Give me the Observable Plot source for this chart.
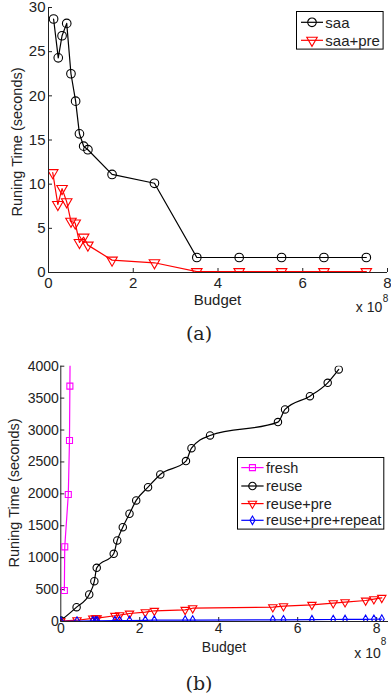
<!DOCTYPE html>
<html><head><meta charset="utf-8">
<script src="https://cdn.jsdelivr.net/npm/d3@7"></script>
<script src="https://cdn.jsdelivr.net/npm/@observablehq/plot@0.6"></script>
<style>
body{margin:0;background:#fff;}
#wrap{position:relative;width:391px;height:698px;font-family:"Liberation Sans",Arial,sans-serif;color:#222;overflow:hidden;}
.abs{position:absolute;white-space:nowrap;line-height:1;}
.ctr{transform:translate(-50%,-50%);}
svg{overflow:visible;}
</style></head><body><div id="wrap"></div>
<script>
// ---------- Panel (a) data ----------
const saaBudget    = [0.12,0.23,0.32,0.43,0.53,0.64,0.73,0.83,0.93,1.5,2.5,3.5,4.5,5.5,6.5,7.5];
const saaTime      = [28.7,24.3,26.8,28.2,22.5,19.4,15.7,14.3,13.9,11.1,10.1,1.7,1.7,1.7,1.7,1.7];
const saaPreBudget = [0.10,0.22,0.32,0.43,0.53,0.63,0.73,0.83,0.93,1.5,2.5,3.5,4.5,5.5,6.5,7.5];
const saaPreTime   = [11.3,7.7,9.5,8.0,5.8,5.6,3.4,4.0,3.1,1.4,1.1,0.1,0.1,0.1,0.1,0.1];
const xTicksA = [0,2,4,6,8];
const yTicksA = [0,5,10,15,20,25,30];

// ---------- Panel (b) data ----------
const freshBudget = [0.09,0.10,0.19,0.22,0.23,0.24];
const freshTime   = [486,1170,1990,2836,3688,4540];
const reuseBudget = [0,0.40,0.72,0.85,0.91,1.34,1.43,1.57,1.74,1.91,2.21,2.52,3.17,3.31,3.78,5.50,5.68,6.31,6.76,7.04];
const reuseTime   = [15,225,423,632,841,1061,1270,1478,1688,1897,2105,2304,2513,2716,2915,3124,3323,3531,3740,3949];
const preBudget   = [0,0.41,0.81,0.88,0.92,1.37,1.49,1.74,2.14,2.37,3.15,3.34,5.37,5.64,6.36,6.90,7.20,7.72,7.93,8.13];
const preTime     = [5,20,48,50,52,90,100,125,146,168,183,208,224,240,262,287,303,329,350,371];
const repeatTime  = [3,6,9,10,10,13,14,16,18,20,22,23,26,27,29,31,32,34,35,37];
const xTicksB = [0,2,4,6,8];
const yTicksB = [0,500,1000,1500,2000,2500,3000,3500,4000];

const zip = (xs, ys) => xs.map((x, i) => ({x, y: ys[i]}));
const wrap = document.getElementById("wrap");
const font = '"Liberation Sans", Arial, sans-serif';
const plain = d => String(d);

function series(xs, ys, color, symbol, r, rotate, curve) {
  const d = zip(xs, ys);
  return [
    Plot.line(d, {x: "x", y: "y", stroke: color, strokeWidth: 1.2, curve: curve || "linear", clip: true}),
    Plot.dot(d, {x: "x", y: "y", stroke: color, fill: "none", strokeWidth: 1.1, symbol, r, rotate: rotate || 0, clip: true})
  ];
}

function place(el, top) {
  el.style.position = "absolute"; el.style.left = "0px"; el.style.top = top + "px";
  wrap.appendChild(el);
}

// ---------- Panel (a) ----------
const hA = 310, mtA = 7, mbA = 38, mlA = 48, mrA = 4;
const plotA = Plot.plot({
  width: 391, height: hA, marginLeft: mlA, marginRight: mrA, marginTop: mtA, marginBottom: mbA,
  style: {fontFamily: font, fontSize: "15px", color: "#222", background: "transparent", overflow: "visible"},
  x: {domain: [0, 8]},
  y: {domain: [0, 30]},
  marks: [
    Plot.axisX(xTicksA, {tickSize: 0, tickPadding: 5, label: null, fill: "#222", tickFormat: plain}),
    Plot.axisY(yTicksA, {tickSize: 0, tickPadding: 3, label: null, fill: "#222", tickFormat: plain}),
    Plot.tickX(xTicksA, {x: d => d, insetTop: hA - mtA - mbA - 4, stroke: "#222"}),
    Plot.tickY(yTicksA, {y: d => d, insetRight: 391 - mlA - mrA - 4, stroke: "#222"}),
    ...series(saaBudget, saaTime, "#000", "circle", 4.3),
    ...series(saaPreBudget, saaPreTime, "#ff0000", "triangle", 3.9, 180),
    Plot.ruleX([0], {stroke: "#222"}),
    Plot.ruleY([0], {stroke: "#222"})
  ]
});
place(plotA, 0);

// ---------- Panel (b) ----------
const topB = 340, hB = 320, mtB = 25.7, mbB = 39, mlB = 60.3, mrB = 3;
const plotB = Plot.plot({
  width: 391, height: hB, marginLeft: mlB, marginRight: mrB, marginTop: mtB, marginBottom: mbB,
  style: {fontFamily: font, fontSize: "14px", color: "#222", background: "transparent", overflow: "visible"},
  x: {domain: [0, 8.3]},
  y: {domain: [0, 4000]},
  marks: [
    Plot.axisX(xTicksB, {tickSize: 0, tickPadding: 2, label: null, fill: "#222", tickFormat: plain}),
    Plot.axisY(yTicksB, {tickSize: 0, tickPadding: 2, label: null, fill: "#222", tickFormat: plain}),
    Plot.tickX(xTicksB, {x: d => d, insetTop: hB - mtB - mbB - 4, stroke: "#222"}),
    Plot.tickY(yTicksB, {y: d => d, insetRight: 391 - mlB - mrB - 4, stroke: "#222"}),
    Plot.ruleX([0], {stroke: "#222"}),
    Plot.ruleY([0], {stroke: "#222"}),
    ...series(freshBudget, freshTime, "#ff00ff", "square", 3.4),
    ...series(reuseBudget, reuseTime, "#000", "circle", 3.7, 0, "monotone-x"),
    ...series(preBudget, preTime, "#ff0000", "triangle", 3.1, 180),
    ...series(preBudget, repeatTime, "#0000ff", "diamond", 2.6)
  ]
});
place(plotB, topB);

// ---------- text ----------
function txt(s, x, y, css) {
  const d = document.createElement("div");
  d.className = "abs ctr";
  d.innerHTML = s;
  d.style.left = x + "px"; d.style.top = y + "px";
  Object.assign(d.style, css || {});
  wrap.appendChild(d);
  return d;
}
txt("Runing Time (seconds)", 17, 142, {fontSize: "14.5px", transform: "translate(-50%,-50%) rotate(-90deg)"});
txt("Budget", 217.5, 299, {fontSize: "15px"});
txt("x 10", 369, 307, {fontSize: "14px"});
txt("8", 385.5, 298.5, {fontSize: "10px"});
txt("(a)", 199, 333, {fontSize: "19px", fontFamily: '"DejaVu Serif","Liberation Serif",serif'});

txt("Runing Time (seconds)", 14, 493, {fontSize: "14.5px", transform: "translate(-50%,-50%) rotate(-90deg)"});
txt("Budget", 224, 647, {fontSize: "14px"});
txt("x 10", 367.5, 652.5, {fontSize: "14px"});
txt("8", 383.5, 641.5, {fontSize: "10px"});
txt("(b)", 199, 683, {fontSize: "19px", fontFamily: '"DejaVu Serif","Liberation Serif",serif'});

// ---------- legends ----------
const legendA = ["saa", "saa+pre"];
const legendB = ["fresh", "reuse", "reuse+pre", "reuse+pre+repeat"];
function legend(left, top, w, h, items, fs, lineX0, lineX1, textX) {
  const svg = d3.create("svg").attr("width", w).attr("height", h)
    .style("position", "absolute").style("left", left + "px").style("top", top + "px")
    .style("font-family", font).style("font-size", fs + "px");
  svg.append("rect").attr("x", 0.5).attr("y", 0.5).attr("width", w - 1).attr("height", h - 1)
    .attr("fill", "white").attr("stroke", "#000").attr("stroke-width", 1);
  items.forEach(it => {
    const g = svg.append("g");
    g.append("line").attr("x1", lineX0).attr("x2", lineX1).attr("y1", it.y).attr("y2", it.y)
      .attr("stroke", it.color).attr("stroke-width", 1.2);
    g.append("path").attr("d", d3.symbol(it.sym, Math.PI * it.r * it.r)())
      .attr("transform", `translate(${(lineX0 + lineX1) / 2},${it.y}) rotate(${it.rot || 0})`)
      .attr("fill", "none").attr("stroke", it.color).attr("stroke-width", 1.1);
    g.append("text").attr("x", textX).attr("y", it.y).attr("dy", "0.35em").attr("fill", "#222").text(it.label);
  });
  wrap.appendChild(svg.node());
}
legend(295.7, 10.7, 87.6, 38.6, [
  {label: legendA[0], y: 11.3, color: "#000", sym: d3.symbolCircle, r: 4.3},
  {label: legendA[1], y: 29.3, color: "#ff0000", sym: d3.symbolTriangle, r: 3.9, rot: 180}
], 15, 5, 27, 29.3);
legend(236.7, 456.7, 147.3, 72.6, [
  {label: legendB[0], y: 10.6, color: "#ff00ff", sym: d3.symbolSquare, r: 3.4},
  {label: legendB[1], y: 29, color: "#000", sym: d3.symbolCircle, r: 3.7},
  {label: legendB[2], y: 46.6, color: "#ff0000", sym: d3.symbolTriangle, r: 3.1, rot: 180},
  {label: legendB[3], y: 63.3, color: "#0000ff", sym: d3.symbolDiamond, r: 2.6}
], 14.5, 4.3, 26.6, 29);
</script>
</body></html>
